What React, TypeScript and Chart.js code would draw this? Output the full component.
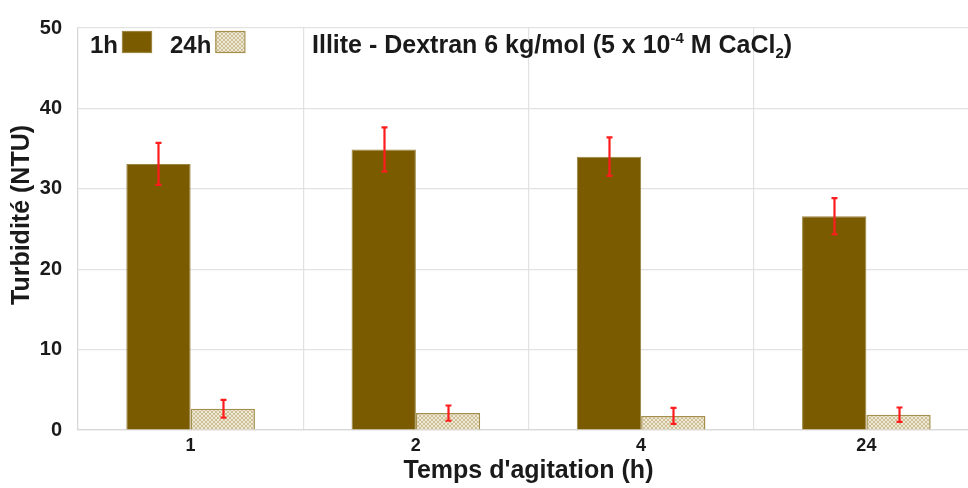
import React, { useEffect, useRef } from "react";
import { Chart, registerables } from "chart.js";

Chart.register(...registerables);

const categories = ["1", "2", "4", "24"];
const seriesLabels = ["1h", "24h"];
const oneHour = [33.1, 34.9, 34.0, 26.6];
const oneHourErr = [2.6, 2.75, 2.4, 2.25];
const oneDay = [2.65, 2.1, 1.75, 1.9];
const oneDayErr = [1.1, 0.95, 1.0, 0.9];
const yTicks = [0, 10, 20, 30, 40, 50];
const yTitle = "Turbidité (NTU)";
const xTitle = "Temps d'agitation (h)";

const FONT = "'Liberation Sans', Arial, sans-serif";
const TEXT = "#1a1a1a";
const BROWN = "#7a5b00";
const BROWN_EDGE = "#9c8540";
const BEIGE_EDGE = "#a48f4c";

function makePattern(ctx: CanvasRenderingContext2D): CanvasPattern | string {
  const c = document.createElement("canvas");
  c.width = 4;
  c.height = 4;
  const p = c.getContext("2d");
  if (!p) return "#e8e0c6";
  p.fillStyle = "#efe8d2";
  p.fillRect(0, 0, 4, 4);
  p.fillStyle = "#cdbf98";
  for (let i = 0; i < 4; i++) {
    p.fillRect(i, i, 1, 1);
    p.fillRect(3 - i, i, 1, 1);
  }
  return ctx.createPattern(c, "repeat") || "#e8e0c6";
}

const overlay = {
  id: "overlay",
  afterDatasetsDraw(chart: any) {
    const ctx = chart.ctx as CanvasRenderingContext2D;
    const y = chart.scales.y;
    const errs = [oneHourErr, oneDayErr];
    const vals = [oneHour, oneDay];
    ctx.save();
    ctx.strokeStyle = "#ff1c1c";
    ctx.lineWidth = 2.2;
    for (let d = 0; d < 2; d++) {
      const meta = chart.getDatasetMeta(d);
      meta.data.forEach((bar: any, i: number) => {
        const x = Math.round(bar.x) + 0.5;
        const top = y.getPixelForValue(vals[d][i] + errs[d][i]);
        const bot = y.getPixelForValue(vals[d][i] - errs[d][i]);
        ctx.beginPath();
        ctx.moveTo(x, top);
        ctx.lineTo(x, bot);
        ctx.moveTo(x - 3, top);
        ctx.lineTo(x + 3, top);
        ctx.moveTo(x - 3, bot);
        ctx.lineTo(x + 3, bot);
        ctx.stroke();
      });
    }
    ctx.restore();
  },
  afterDraw(chart: any) {
    const ctx = chart.ctx as CanvasRenderingContext2D;
    ctx.save();
    ctx.fillStyle = TEXT;
    ctx.textBaseline = "alphabetic";
    ctx.textAlign = "left";
    const legendFont = `bold 24px ${FONT}`;
    const big = `bold 25px ${FONT}`;
    const small = `bold 15px ${FONT}`;
    const base = 53;
    // legend
    ctx.font = legendFont;
    let x = 90;
    const bgs = [BROWN, makePattern(ctx)];
    const edges = [BROWN_EDGE, BEIGE_EDGE];
    const starts = [90, 170];
    seriesLabels.forEach((lab, i) => {
      x = starts[i];
      ctx.fillStyle = TEXT;
      ctx.fillText(lab, x, base);
      const w = ctx.measureText(lab).width;
      const bx = x + w + 4;
      ctx.fillStyle = bgs[i] as any;
      ctx.fillRect(bx, 31, 29, 21);
      ctx.strokeStyle = edges[i];
      ctx.lineWidth = 1.2;
      ctx.strokeRect(bx + 0.5, 31.5, 29, 21);
    });
    // title
    ctx.fillStyle = TEXT;
    const parts: [string, string, number][] = [
      ["Illite - Dextran 6 kg/mol (5 x 10", big, 0],
      ["-4", small, -10],
      [" M CaCl", big, 0],
      ["2", small, 5],
      [")", big, 0],
    ];
    x = 312;
    parts.forEach(([t, f, dy]) => {
      ctx.font = f;
      ctx.fillText(t, x, base + dy);
      x += ctx.measureText(t).width;
    });
    // y axis title
    ctx.save();
    ctx.translate(22, 215);
    ctx.rotate(-Math.PI / 2);
    ctx.font = big;
    ctx.textAlign = "center";
    ctx.textBaseline = "middle";
    ctx.fillText(yTitle, 0, 0);
    ctx.restore();
    ctx.restore();
  },
};

export default function App() {
  const ref = useRef<HTMLCanvasElement>(null);
  useEffect(() => {
    const canvas = ref.current;
    if (!canvas) return;
    const ctx = canvas.getContext("2d")!;
    const pattern = makePattern(ctx);
    const chart = new Chart(canvas, {
      type: "bar",
      data: {
        labels: categories,
        datasets: [
          {
            label: seriesLabels[0],
            data: oneHour,
            backgroundColor: BROWN,
            borderColor: BROWN_EDGE,
            borderWidth: 1,
            categoryPercentage: 0.571,
            barPercentage: 1,
          },
          {
            label: seriesLabels[1],
            data: oneDay,
            backgroundColor: pattern as any,
            borderColor: BEIGE_EDGE,
            borderWidth: 1.5,
            categoryPercentage: 0.571,
            barPercentage: 1,
          },
        ],
      },
      options: {
        responsive: false,
        animation: false,
        layout: { padding: { top: 22, right: 21, left: 0, bottom: 0 } },
        plugins: {
          legend: { display: false },
          title: { display: false },
          tooltip: { enabled: false },
        },
        scales: {
          x: {
            grid: { color: "#e2e2e2", lineWidth: 1.2, drawTicks: false, offset: true },
            border: { color: "#d8d8d8", width: 1.2 },
            ticks: {
              color: TEXT,
              padding: 5,
              font: { family: FONT, size: 18, weight: "bold" },
            },
            title: {
              display: true,
              text: xTitle,
              color: TEXT,
              font: { family: FONT, size: 25, weight: "bold" },
              padding: { top: 0, bottom: 2 },
            },
            afterFit: (s: any) => {
              s.height = 58;
            },
          },
          y: {
            min: 0,
            max: 50,
            afterBuildTicks: (s: any) => {
              s.ticks = yTicks.map((v) => ({ value: v }));
            },
            grid: { color: "#e2e2e2", lineWidth: 1.2, drawTicks: false },
            border: { color: "#d8d8d8", width: 1.2 },
            ticks: {
              color: TEXT,
              padding: 16,
              font: { family: FONT, size: 20, weight: "bold" },
            },
            title: { display: false },
            afterFit: (s: any) => {
              s.width = 78;
            },
          },
        },
      },
      plugins: [overlay],
    });
    return () => chart.destroy();
  }, []);
  return (
    <div
      style={{
        position: "absolute",
        left: 0,
        top: 0,
        width: 968,
        height: 488,
        overflow: "hidden",
        background: "#fff",
      }}
    >
      <canvas ref={ref} width={1000} height={488} style={{ width: 1000, height: 488, display: "block" }} />
    </div>
  );
}
